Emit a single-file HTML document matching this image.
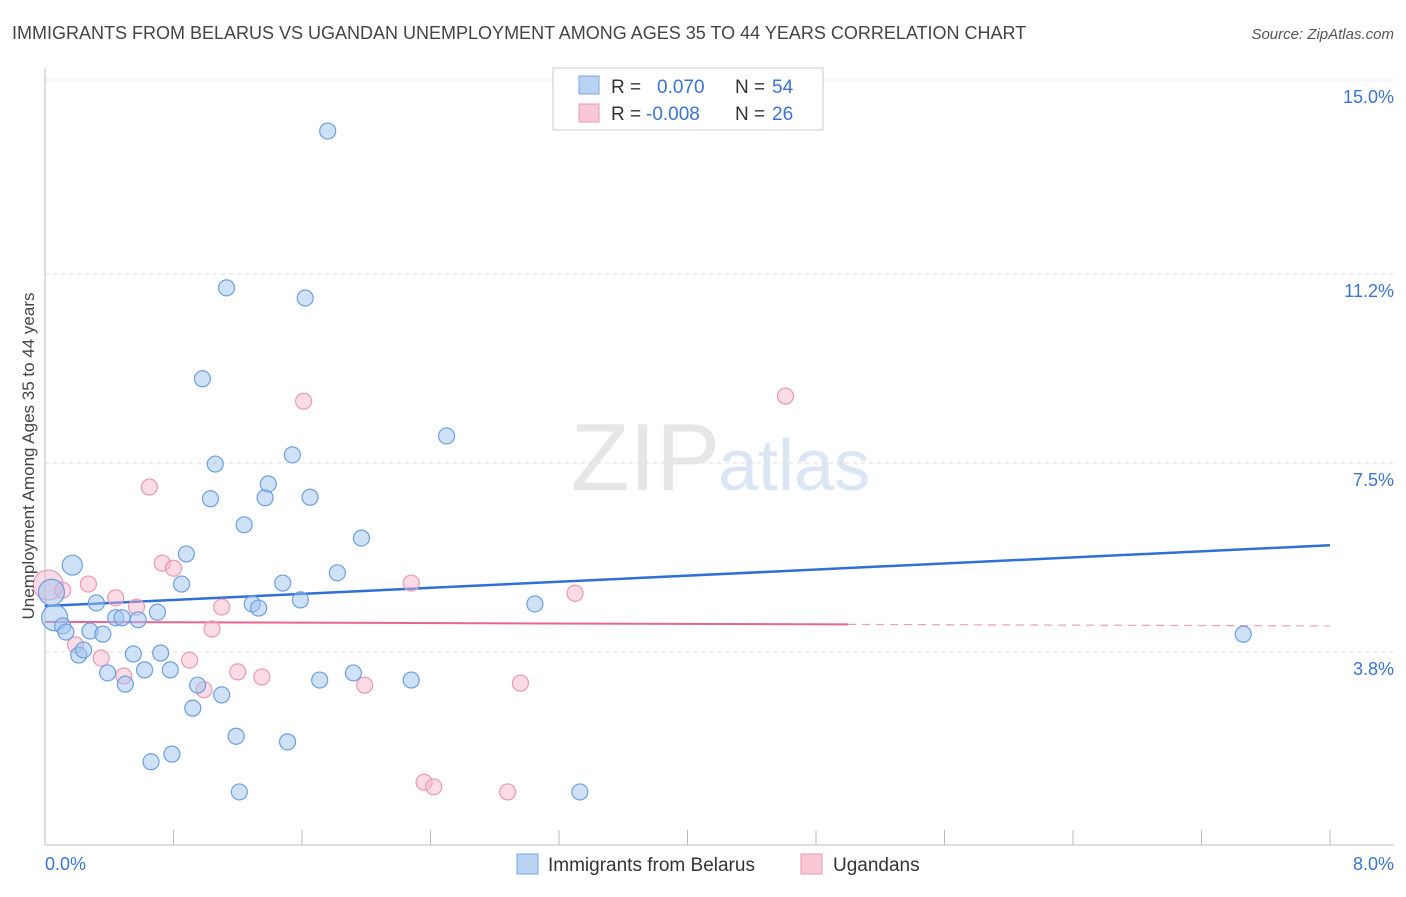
<!DOCTYPE html>
<html><head><meta charset="utf-8"><style>
body{margin:0;background:#fff;font-family:"Liberation Sans",sans-serif;}
svg text{font-family:"Liberation Sans",sans-serif;}
</style></head><body>
<svg id="chart" width="1406" height="892" xmlns="http://www.w3.org/2000/svg">
<text x="12" y="39" font-size="18" fill="#444">IMMIGRANTS FROM BELARUS VS UGANDAN UNEMPLOYMENT AMONG AGES 35 TO 44 YEARS CORRELATION CHART</text>
<text x="1394" y="39" font-size="15" fill="#555" text-anchor="end" font-style="italic">Source: ZipAtlas.com</text>
<text x="720" y="490" font-size="96" fill="#e6e6e6" text-anchor="end" font-family="Liberation Serif">ZIP</text>
<text x="718" y="490" font-size="72" fill="#dbe6f5">atlas</text>
<g id="grid"></g><g id="axes"></g><g id="lines"></g><g id="pts"></g>
<text transform="translate(34,456) rotate(-90)" font-size="17" fill="#444" text-anchor="middle">Unemployment Among Ages 35 to 44 years</text>
<g>
<rect x="553" y="68" width="270" height="62" fill="#fff" stroke="#ccc"/>
<rect x="579" y="76" width="20" height="18" fill="#b9d3f3" stroke="#7aa6e0"/>
<text x="611" y="93" font-size="19" fill="#333">R =</text><text x="657" y="93" font-size="19" fill="#3a74d0">0.070</text>
<text x="735" y="93" font-size="19" fill="#333">N =</text><text x="772" y="93" font-size="19" fill="#3a74d0">54</text>
<rect x="579" y="104" width="20" height="18" fill="#f8c8d6" stroke="#e99ab3"/>
<text x="611" y="120" font-size="19" fill="#333">R =</text><text x="646" y="120" font-size="19" fill="#3a74d0">-0.008</text>
<text x="735" y="120" font-size="19" fill="#333">N =</text><text x="772" y="120" font-size="19" fill="#3a74d0">26</text>
</g>
<g>
<rect x="517" y="854" width="21" height="20" fill="#b9d3f3" stroke="#7aa6e0"/>
<text x="548" y="871" font-size="19" fill="#333">Immigrants from Belarus</text>
<rect x="801" y="854" width="21" height="20" fill="#f8c8d6" stroke="#e99ab3"/>
<text x="833" y="871" font-size="19" fill="#333">Ugandans</text>
</g>
</svg>
<script>
const yTicks=[15.0,11.2,7.5,3.8];
const yTickLabels=["15.0%","11.2%","7.5%","3.8%"];
const xTickLabels=["0.0%","8.0%"];
const blueX=[0.04,0.06,0.11,0.13,0.17,0.21,0.24,0.28,0.32,0.36,0.39,0.44,0.48,0.50,0.55,0.58,0.62,0.66,0.70,0.72,0.78,0.79,0.85,0.88,0.92,0.95,0.98,1.03,1.06,1.10,1.13,1.19,1.21,1.24,1.29,1.33,1.37,1.39,1.48,1.51,1.54,1.59,1.62,1.65,1.71,1.76,1.82,1.92,1.97,2.28,2.50,3.05,3.33,7.46];
const blueY=[4.97,4.47,4.31,4.19,5.50,3.74,3.84,4.21,4.76,4.15,3.39,4.47,4.47,3.17,3.76,4.43,3.45,1.65,4.58,3.78,3.45,1.80,5.13,5.72,2.70,3.15,9.15,6.80,7.48,2.96,10.93,2.15,1.06,6.29,4.74,4.66,6.82,7.09,5.15,2.04,7.66,4.82,10.73,6.83,3.25,14.00,5.35,3.39,6.03,3.25,8.03,4.74,1.06,4.15];
const pinkX=[0.02,0.11,0.19,0.27,0.35,0.44,0.49,0.57,0.65,0.73,0.80,0.90,0.99,1.04,1.10,1.20,1.35,1.61,1.99,2.28,2.36,2.42,2.88,2.96,3.30,4.61];
const pinkY=[5.11,5.01,3.94,5.13,3.68,4.86,3.33,4.68,7.03,5.54,5.44,3.64,3.06,4.25,4.68,3.41,3.31,8.71,3.15,5.15,1.25,1.16,1.06,3.19,4.95,8.81];
const blueTrend=[4.70,5.89];
const pinkTrend=[4.39,4.31];
const X=v=>45+v*160.625, Y=v=>80+(15-v)*51.07;
const NS="http://www.w3.org/2000/svg";
function mk(tag,attrs,parent){const e=document.createElementNS(NS,tag);for(const k in attrs)e.setAttribute(k,attrs[k]);document.getElementById(parent).appendChild(e);return e;}
yTicks.forEach((t,i)=>{
 const l=mk('line',{x1:45,x2:1394,y1:Y(t),y2:Y(t),stroke:'#ddd','stroke-dasharray':'4,4'},'grid');
 
 
 const tx=mk('text',{x:1394,y:Y(t)+23,'font-size':18,fill:'#3a74d0','text-anchor':'end'},'grid');
 tx.textContent=yTickLabels[i];
 
 
});
const ax=mk('line',{x1:45,x2:45,y1:68,y2:845,stroke:'#bbb'},'axes');


const bx=mk('line',{x1:45,x2:1394,y1:845,y2:845,stroke:'#bbb'},'axes');


for(let i=0;i<=10;i++){
 const t=mk('line',{x1:X(i*0.8),x2:X(i*0.8),y1:830,y2:845,stroke:'#bbb'},'axes');
 
 
}
[[0,'start',45],[8,'end',1394]].forEach((d,i)=>{
 const t=mk('text',{x:d[2],y:870,'font-size':18,fill:'#3a74d0','text-anchor':d[1]},'axes');
 t.textContent=xTickLabels[i];
 
 
});
const bl=mk('line',{x1:X(0),y1:Y(blueTrend[0]),x2:X(8),y2:Y(blueTrend[1]),stroke:'#2f6fd6','stroke-width':2.5},'lines');


const pm=pinkTrend[0]+(pinkTrend[1]-pinkTrend[0])*(5/8);
const pl=mk('line',{x1:X(0),y1:Y(pinkTrend[0]),x2:X(5),y2:Y(pm),stroke:'#e8658f','stroke-width':2},'lines');


const pd=mk('line',{x1:X(5),y1:Y(pm),x2:X(8),y2:Y(pinkTrend[1]),stroke:'#e8a0b8','stroke-width':1.2,'stroke-dasharray':'8,6'},'lines');


pinkX.forEach((x,i)=>{
 const c=mk('circle',{cx:X(x),cy:Y(pinkY[i]),r:i===0?15:8,fill:'rgba(246,178,200,0.45)',stroke:'#e99ab3','stroke-width':1.2},'pts');
 
 
});
blueX.forEach((x,i)=>{
 const c=mk('circle',{cx:X(x),cy:Y(blueY[i]),r:i<2?13:(i===4?10:8),fill:'rgba(160,196,240,0.5)',stroke:'#6d9fe0','stroke-width':1.2},'pts');
 
 
});
</script>
</body></html>
